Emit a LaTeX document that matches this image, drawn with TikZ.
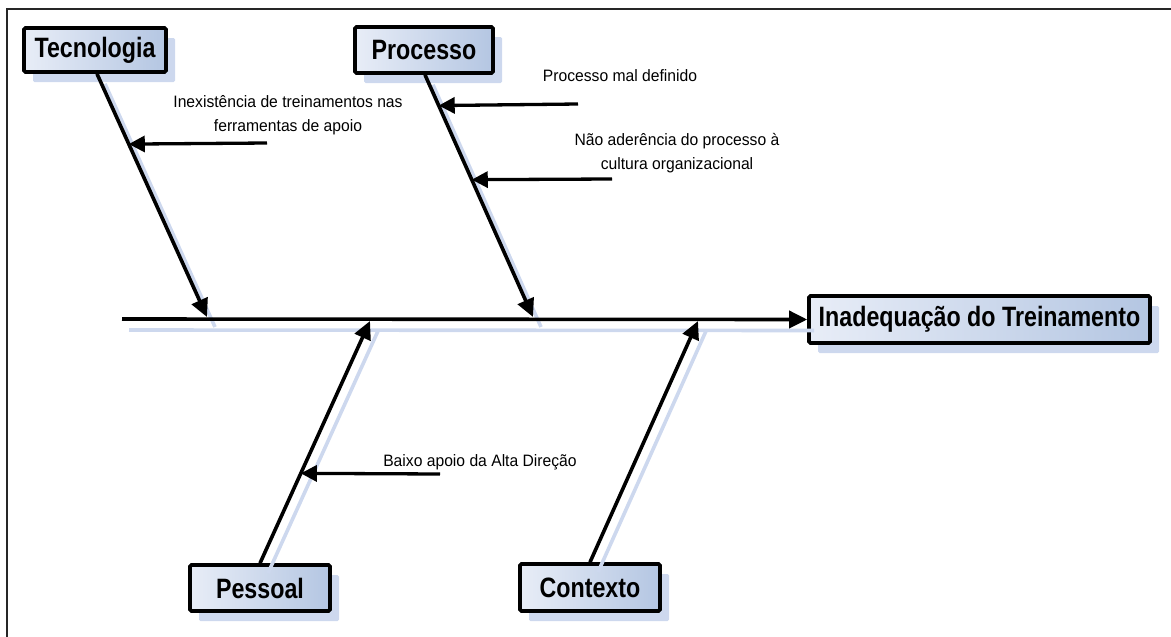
\documentclass[tikz,border=0pt]{standalone}
\usepackage{fontspec}
\setmainfont{Liberation Sans}
\newfontfamily\boxfont[FakeStretch=0.83]{Liberation Sans}
\newfontfamily\notefont[FakeStretch=0.95]{Liberation Sans}
\usetikzlibrary{arrows.meta,shadows,calc}
\definecolor{shadowblue}{RGB}{205,216,238}
\definecolor{boxlight}{RGB}{232,237,247}
\definecolor{boxdark}{RGB}{180,198,226}
\tikzset{
  cause/.style={draw=black, line width=3.6pt, rounded corners=1.5pt,
    left color=boxlight, right color=boxdark, inner sep=0pt,
    font=\boxfont\bfseries\fontsize{28}{30}\selectfont,
    drop shadow={shadow xshift=9pt, shadow yshift=-10pt, fill=shadowblue, opacity=1}},
  note/.style={align=center, inner sep=0pt,
    font=\notefont\fontsize{16.5}{23.5}\selectfont},
  bone/.style={line width=3.6pt, -{Triangle[length=18pt,width=17pt]}},
  boneshadow/.style={line width=3.6pt, draw=shadowblue},
  subarrow/.style={line width=3.3pt, -{Triangle[length=16pt,width=16pt]}},
}
\begin{document}
\begin{tikzpicture}[x=1pt,y=-1pt]
\useasboundingbox (0,0) rectangle (1171,637);
% outer frame
\draw[line width=2pt, black!85] (7,637) -- (7,9) -- (1171,9);

% cause boxes and effect box
\node[cause, minimum width=142pt, minimum height=44pt] (tec) at (95,50) {Tecnologia};
\node[cause, minimum width=138pt, minimum height=46pt] (pro) at (424,50) {Processo};
\node[cause, minimum width=341pt, minimum height=47pt] (eff) at (979.5,319.5) {Inadequação do Treinamento};
\node[cause, minimum width=140pt, minimum height=46pt] (pes) at (260,588) {Pessoal};
\node[cause, minimum width=140pt, minimum height=47pt] (ctx) at (590,587.5) {Contexto};

% points where the bones meet the spine
\coordinate (spine0) at (122,319);
\coordinate (tecend) at (207,317);
\coordinate (proend) at (533,317);
\coordinate (pesend) at (370,321);
\coordinate (ctxend) at (698,321);
\coordinate (tectop) at ($(tec.south)+(2,0)$);
\coordinate (protop) at ($(pro.south)+(1,0)$);

% light shadows under spine and bones
\begin{scope}[boneshadow]
  \draw ($(spine0)+(7,11)$) -- ($(eff.west)+(7,11)$);
  \draw ($(tectop)+(8,10)$) -- ($(tecend)+(8,10)$);
  \draw ($(protop)+(8,10)$) -- ($(proend)+(8,10)$);
  \draw ($(pes.north)+(8,10)$) -- ($(pesend)+(8,10)$);
  \draw ($(ctx.north)+(8,10)$) -- ($(ctxend)+(8,10)$);
\end{scope}

% spine and bones
\draw[bone] (spine0) -- (eff.west);
\draw[bone] (tectop) -- (tecend);
\draw[bone] (protop) -- (proend);
\draw[bone] (pes.north) -- (pesend);
\draw[bone] (ctx.north) -- (ctxend);

% sub-causes
\node[note] (n1) at (288,115) {Inexistência de treinamentos nas\\ferramentas de apoio};
\coordinate (s1) at (267,143);
\draw[subarrow] (s1) -- ($(tectop)!0.289!(tecend)$);

\node[note] (n2) at (620,76) {Processo mal definido};
\coordinate (s2) at (578,104);
\draw[subarrow] (s2) -- ($(protop)!0.127!(proend)$);

\node[note] (n3) at (677,153) {Não aderência do processo à\\cultura organizacional};
\coordinate (s3) at (612,179);
\draw[subarrow] (s3) -- ($(protop)!0.433!(proend)$);

\node[note] (n4) at (480,462) {Baixo apoio da Alta Direção};
\coordinate (s4) at (440,474);
\draw[subarrow] (s4) -- ($(pes.north)!0.371!(pesend)$);
\end{tikzpicture}
\end{document}
